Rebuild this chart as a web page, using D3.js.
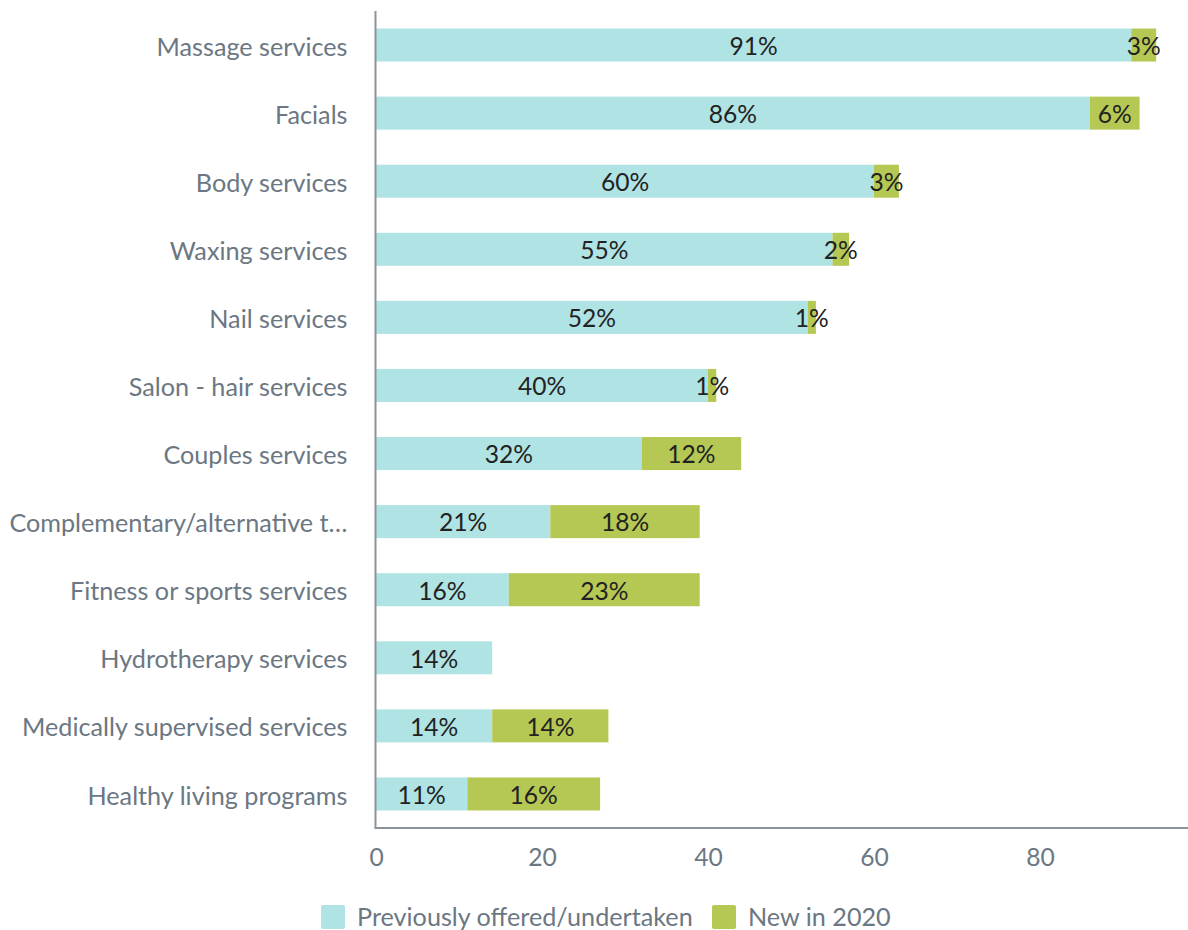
<!DOCTYPE html>
<html>
<head>
<meta charset="utf-8">
<script src="https://cdn.jsdelivr.net/npm/d3@7"></script>
<style>
  html, body { margin: 0; padding: 0; background: #fff; }
  svg { display: block; font-family: Lato, "Noto Sans", sans-serif; }
</style>
</head>
<body>
<svg id="chart" width="1188" height="930"></svg>
<script>
// Service categories, top to bottom
const categories = [
  "Massage services",
  "Facials",
  "Body services",
  "Waxing services",
  "Nail services",
  "Salon - hair services",
  "Couples services",
  "Complementary/alternative t\u2026",
  "Fitness or sports services",
  "Hydrotherapy services",
  "Medically supervised services",
  "Healthy living programs"
];
// Share of spas (%) per category
const previouslyOffered = [91, 86, 60, 55, 52, 40, 32, 21, 16, 14, 14, 11];
const newIn2020 = [3, 6, 3, 2, 1, 1, 12, 18, 23, 0, 14, 16];
const seriesNames = ["Previously offered/undertaken", "New in 2020"];
const xTicks = [0, 20, 40, 60, 80];

const colors = ["#b0e3e4", "#b6c854"];
const labelGrey = "#6b7782";
const axisGrey = "#8c939a";

const svg = d3.select("#chart");
const W = 1188;
const margin = { left: 376, top: 11, bottom: 828 };

const x = d3.scaleLinear().domain([0, 100]).range([margin.left, margin.left + 830]);
const y = d3.scaleBand().domain(categories).range([margin.top, margin.bottom]).paddingInner(0.515).paddingOuter(0.2575);

const rows = categories.map((c, i) => ({ cat: c, a: previouslyOffered[i], b: newIn2020[i] }));
const stack = d3.stack().keys(["a", "b"])(rows);

const g = svg.append("g");
stack.forEach((layer, li) => {
  g.append("g").selectAll("rect")
    .data(layer.filter(d => d[1] - d[0] > 0))
    .join("rect")
    .attr("x", d => x(d[0]))
    .attr("y", d => y(d.data.cat))
    .attr("width", d => x(d[1]) - x(d[0]))
    .attr("height", y.bandwidth())
    .attr("fill", colors[li]);
});

// Value labels centred in each segment
stack.forEach((layer) => {
  g.append("g").selectAll("text")
    .data(layer.filter(d => d[1] - d[0] > 0))
    .join("text")
    .attr("x", d => (x(d[0]) + x(d[1])) / 2)
    .attr("y", d => y(d.data.cat) + y.bandwidth() / 2)
    .attr("dy", "0.4em")
    .attr("text-anchor", "middle")
    .attr("font-size", 24.6)
    .attr("fill", "#222")
    .text(d => (d[1] - d[0]) + "%");
});

// Category axis
const yAxis = svg.append("g")
  .attr("transform", `translate(${margin.left - 0.5},0)`)
  .call(d3.axisLeft(y).tickSize(0).tickPadding(28));
yAxis.select(".domain").attr("stroke", axisGrey).attr("stroke-width", 2)
  .attr("d", `M0,${margin.top}V${margin.bottom}`);
yAxis.selectAll("text").attr("font-size", 25.2).attr("fill", labelGrey)
  .attr("dy", "0.42em")
  .attr("font-family", "Lato, sans-serif");

// Value axis
const xAxis = svg.append("g")
  .attr("transform", `translate(0,${margin.bottom})`)
  .call(d3.axisBottom(x).tickValues(xTicks).tickSize(0).tickPadding(21));
xAxis.select(".domain").attr("stroke", axisGrey).attr("stroke-width", 2)
  .attr("d", `M${margin.left - 1.5},0H${W}`);
xAxis.selectAll("text").attr("font-size", 24.6).attr("fill", labelGrey)
  .attr("font-family", "Lato, sans-serif");

// Legend
const legend = svg.append("g");
const legendItems = [
  { name: seriesNames[0], color: colors[0], x: 321 },
  { name: seriesNames[1], color: colors[1], x: 712 }
];
legendItems.forEach(it => {
  legend.append("rect").attr("x", it.x).attr("y", 905).attr("width", 24).attr("height", 24)
    .attr("rx", 2).attr("fill", it.color);
  legend.append("text").attr("x", it.x + 36).attr("y", 926)
    .attr("font-size", 25.2).attr("fill", labelGrey).text(it.name);
});
</script>
</body>
</html>
